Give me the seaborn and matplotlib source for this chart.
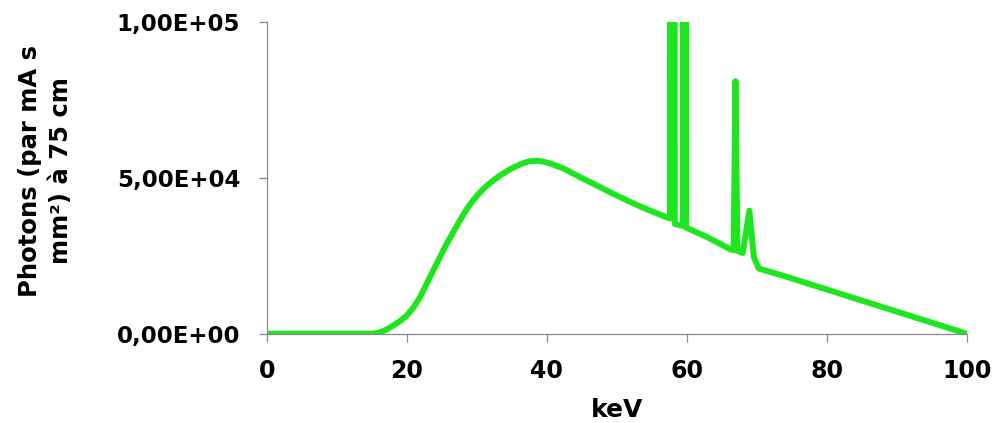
import matplotlib
matplotlib.use("Agg")
import matplotlib.pyplot as plt
from matplotlib.ticker import FuncFormatter
import seaborn as sns

# X-ray spectrum (photons per mA s mm2 at 75 cm)
kev = [0, 10, 15.0, 16.0, 17.0, 18.0, 19.0, 20.0, 21.0, 21.9, 23.8, 25.7,
       27.6, 28.5, 29.5, 30.5, 31.5, 32.5, 33.5, 34.5, 35.5, 36.5, 37.5,
       38.5, 39.5, 40.5, 42.4, 44.7, 47.1, 49.5, 51.9, 54.2, 57.1, 57.6,
       57.65, 58.25, 58.3, 59.45, 59.5, 59.9, 59.95, 63.0, 66.3, 66.7,
       66.97, 67.25, 68.0, 68.95, 69.6, 70.3, 73.2, 80, 90, 100]
photons = [0, 0, 0, 300, 1200, 2500, 4000, 5800, 8500, 11700, 20300, 28800,
           36300, 39700, 42800, 45400, 47600, 49400, 51000, 52400, 53600,
           54600, 55300, 55500, 55200, 54600, 53000, 50300, 47600, 44900,
           42300, 40000, 37400, 37000, 400000, 400000, 35200, 34600, 400000,
           400000, 34000, 30900, 27000, 26800, 81000, 26600, 25900, 39500,
           24500, 20900, 19000, 14200, 7100, 0]

x_ticks = [0, 20, 40, 60, 80, 100]
y_ticks = [0, 50000, 100000]

sns.set_style("white")
plt.rcParams['font.family'] = ['DejaVu Sans']
plt.rcParams['font.weight'] = 'bold'
plt.rcParams['text.color'] = 'black'

fig = plt.figure(figsize=(9.97, 4.23), dpi=100)
ax = fig.add_axes([0.2675, 0.2111, 0.7021, 0.7369])

sns.lineplot(x=kev, y=photons, color='#1ee61e', lw=4.3, estimator=None,
             sort=False, ax=ax)

ax.set_xlim(0, 100)
ax.set_ylim(0, 100000)
ax.set_xticks(x_ticks)
ax.set_yticks(y_ticks)
ax.yaxis.set_major_formatter(FuncFormatter(lambda v, p: f"{v:.2E}".replace(".", ",")))

sns.despine(ax=ax)
for side in ['left', 'bottom']:
    ax.spines[side].set_color('#888888')
    ax.spines[side].set_linewidth(0.9)

ax.tick_params(axis='x', direction='out', length=6, width=0.9, color='#888888',
               labelsize=17, pad=12, bottom=True, labelcolor='black')
ax.tick_params(axis='y', direction='out', length=6, width=0.9, color='#888888',
               labelsize=16.5, pad=13, left=True, labelcolor='black')
for lab in ax.get_xticklabels() + ax.get_yticklabels():
    lab.set_fontweight('bold')

ax.set_xlabel('keV', fontsize=18, fontweight='bold', labelpad=11, color='black')
ax.set_ylabel('')
fig.text(0.0456, 0.5957, 'Photons (par mA s\nmm²) à 75 cm', rotation=90,
         ha='center', va='center', multialignment='center', fontsize=17.5,
         fontweight='bold', linespacing=1.35, color='black')

fig.savefig('out.png', dpi=100)
